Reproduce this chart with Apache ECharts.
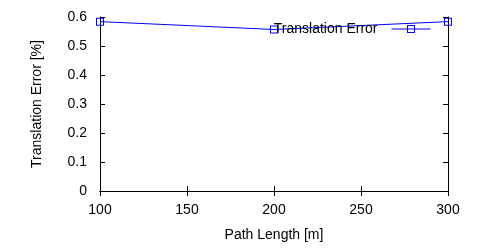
<!DOCTYPE html>
<html><head><meta charset="utf-8">
<script src="https://cdn.jsdelivr.net/npm/echarts@6/dist/echarts.min.js"></script>
<style>html,body{margin:0;padding:0;background:#fff}#c{width:500px;height:250px}</style>
</head><body><div id="c"></div>
<script>
const pathLengths = [100, 200, 300];
const translationError = [0.584, 0.557, 0.584];
const xTicks = [100, 150, 200, 250, 300];
const yTicks = [0, 0.1, 0.2, 0.3, 0.4, 0.5, 0.6];
const seriesName = 'Translation Error';

const font = 'Liberation Sans, Arial, Helvetica, sans-serif';
const squareRing = 'path://M0,0H8V8H0ZM1,1V7H7V1Z';
const chart = echarts.init(document.getElementById('c'), null, {renderer: 'canvas'});
const axisCommon = {
  axisLine: {show: true, lineStyle: {color: '#000', width: 1}},
  axisTick: {show: true, inside: true, length: 5, lineStyle: {color: '#000'}},
  splitLine: {show: false}
};
chart.setOption({
  animation: false,
  backgroundColor: '#fff',
  grid: {left: 100, right: 52, top: 17, bottom: 59},
  legend: {
    data: [seriesName],
    right: 69, top: 22, padding: 0,
    align: 'right',
    itemWidth: 39, itemHeight: 10,
    lineStyle: {width: 1},
    textStyle: {fontFamily: font, fontSize: 14, color: '#000', padding: [0, 9, 0, 0]}
  },
  xAxis: [
    Object.assign({}, axisCommon, {
      type: 'value', min: xTicks[0], max: xTicks[xTicks.length - 1], interval: 50,
      position: 'bottom',
      name: 'Path Length [m]', nameLocation: 'middle', nameGap: 37,
      nameTextStyle: {fontFamily: font, fontSize: 14, color: '#000'},
      axisLabel: {fontFamily: font, fontSize: 14, color: '#000', margin: 12}
    }),
    Object.assign({}, axisCommon, {
      type: 'value', min: xTicks[0], max: xTicks[xTicks.length - 1], interval: 50,
      position: 'top', axisLabel: {show: false}
    })
  ],
  yAxis: [
    Object.assign({}, axisCommon, {
      type: 'value', min: yTicks[0], max: yTicks[yTicks.length - 1], interval: 0.1,
      position: 'left',
      name: 'Translation Error [%]', nameLocation: 'middle', nameGap: 56,
      nameTextStyle: {fontFamily: font, fontSize: 14, color: '#000'},
      axisLabel: {fontFamily: font, fontSize: 14, color: '#000', margin: 13}
    }),
    Object.assign({}, axisCommon, {
      type: 'value', min: yTicks[0], max: yTicks[yTicks.length - 1], interval: 0.1,
      position: 'right', axisLabel: {show: false}
    })
  ],
  series: [{
    name: seriesName,
    type: 'line',
    data: pathLengths.map((x, i) => [x, translationError[i]]),
    symbol: squareRing, symbolSize: 8,
    lineStyle: {color: '#0000ff', width: 1},
    itemStyle: {color: '#0000ff', borderWidth: 0},
    showAllSymbol: true,
    clip: false
  }]
});
</script></body></html>
